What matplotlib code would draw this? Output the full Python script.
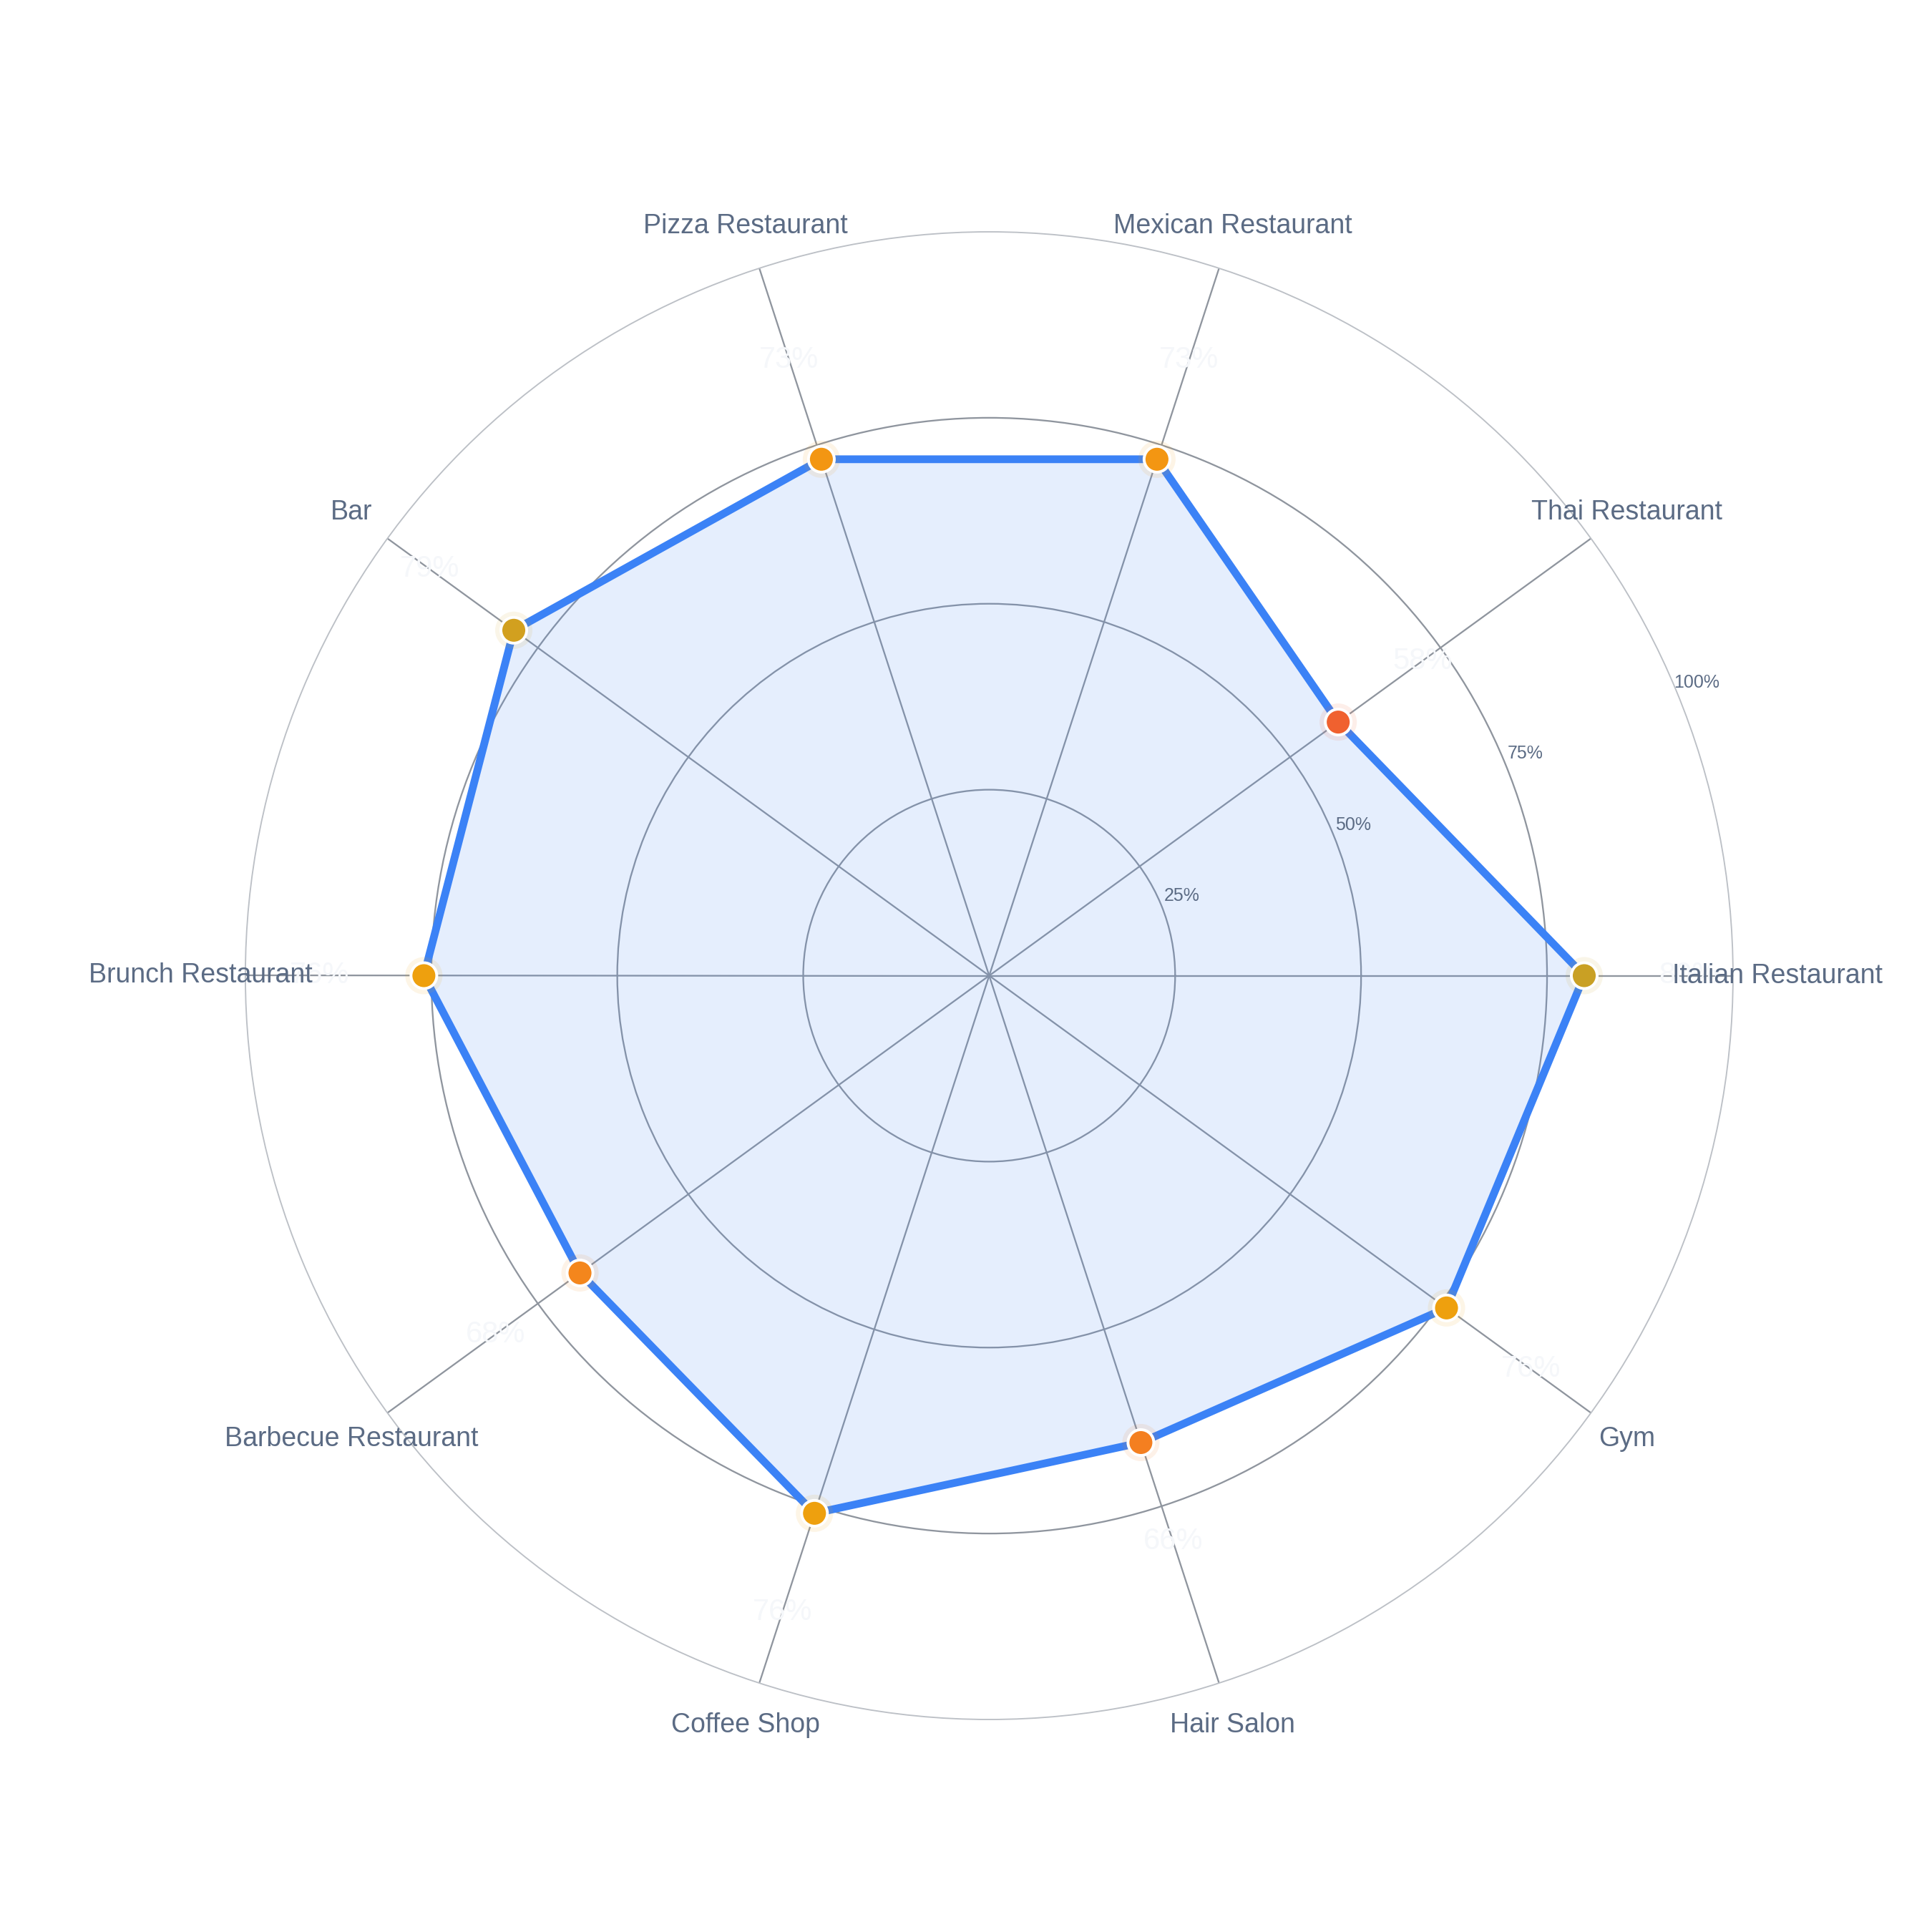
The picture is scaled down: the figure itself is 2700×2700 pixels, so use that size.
import numpy as np
import matplotlib
matplotlib.use("Agg")
import matplotlib.pyplot as plt
from matplotlib.colors import LinearSegmentedColormap, Normalize

categories = ["Italian Restaurant", "Thai Restaurant", "Mexican Restaurant",
              "Pizza Restaurant", "Bar", "Brunch Restaurant",
              "Barbecue Restaurant", "Coffee Shop", "Hair Salon", "Gym"]
scores = [80, 58, 73, 73, 79, 76, 68, 76, 66, 76]
ring_ticks = [25, 50, 75, 100]
ring_labels = ["25%", "50%", "75%", "100%"]

plt.rcParams['font.family'] = ['Liberation Sans', 'DejaVu Sans']

label_color = '#5B6B84'
line_color = '#3B82F6'

# marker colours go from red-orange (low) to gold (high)
cmap = LinearSegmentedColormap.from_list(
    'score', [(0.0, '#F0612F'), (0.36, '#F47F20'), (0.68, '#F39612'),
              (0.82, '#EEA00E'), (1.0, '#C9A024')])
norm = Normalize(min(scores), max(scores))
colors = [cmap(norm(v)) for v in scores]

n = len(categories)
angles = np.linspace(0, 2 * np.pi, n, endpoint=False)
closed_a = np.append(angles, angles[0])
closed_v = scores + scores[:1]

fig = plt.figure(figsize=(9, 9), dpi=300)
ax = fig.add_axes([0.127, 0.110, 0.770, 0.770], projection='polar')
ax.set_ylim(0, 100)
ax.set_xticks(angles)
ax.set_xticklabels([])
ax.set_yticks(ring_ticks[:-1])
ax.set_yticklabels([])
ax.tick_params(length=0)
ax.grid(color='#8F959E', linewidth=0.55)
ax.spines['polar'].set_color('#BCC0C6')
ax.spines['polar'].set_linewidth(0.45)

ax.fill(closed_a, closed_v, color=line_color, alpha=0.13, lw=0, zorder=2)
ax.plot(closed_a, closed_v, color=line_color, lw=2.6, zorder=3,
        solid_joinstyle='round')

# soft halo behind each point
ax.scatter(angles, scores, s=12.5 ** 2, c=colors, alpha=0.1, lw=0, zorder=4)
ax.scatter(angles, scores, s=8.65 ** 2, c=colors, edgecolors='white',
           linewidths=0.95, zorder=5)

for a, v in zip(angles, scores):
    ax.text(a, v + 14, f"{v}%", ha='center', va='center', fontsize=10,
            color='#F5F7FA', zorder=6)

for a, cat in zip(angles, categories):
    ax.text(a, 106, cat, ha='center', va='center', fontsize=9,
            color=label_color, zorder=6)

for t, lab in zip(ring_ticks, ring_labels):
    ax.text(np.deg2rad(22.5), t + 3, lab, ha='center', va='center',
            fontsize=6, color=label_color, zorder=6)

fig.savefig('out.png', dpi=300, facecolor='white')
